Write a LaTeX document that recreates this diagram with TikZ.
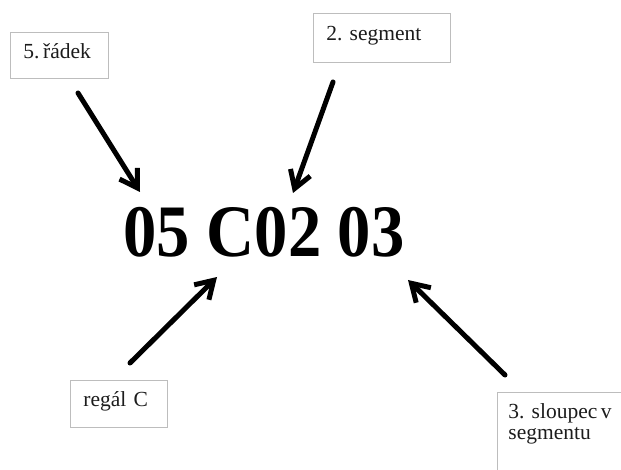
\documentclass[tikz,border=0pt]{standalone}
\usepackage{fontspec}
\setmainfont[WordSpace=0.8]{Liberation Serif}
\newfontfamily\codefont{Liberation Serif}
\usetikzlibrary{arrows.meta}
\definecolor{framegray}{HTML}{BDBDBD}
\definecolor{inkgray}{HTML}{1C1C1C}
\frenchspacing
\begin{document}
\begin{tikzpicture}[x=1pt,y=-1pt,
  tag/.style={draw=framegray, line width=0.9pt, fill=white, anchor=north west,
    align=left, inner xsep=13pt, inner ysep=0pt, text height=13pt, text depth=7pt,
    font=\fontsize{21.5}{22}\selectfont, text=inkgray},
  pointer/.style={line width=5pt, line cap=round,
    -{Straight Barb[length=17pt,width=21pt]}}]
\useasboundingbox (0,0) rectangle (621,470);
\clip (0,0) rectangle (621,470);
\fill[white] (0,0) rectangle (621,470);

% the location code
\node[font=\codefont\fontsize{74}{80}\selectfont\bfseries, xscale=0.9, inner sep=0pt]
  (code) at (264,232) {05 C02 03};

% explanation boxes
\node[tag, text width=72pt, minimum height=46pt] (row) at (10,32) {5.\,řádek};
\node[tag, text width=111pt, minimum height=49pt] (seg) at (313,13) {2. segment};
\node[tag, text width=71pt, minimum height=47pt] (rack) at (70,380) {regál C};
\node[tag, inner xsep=11pt, inner ysep=11.7pt, text width=178pt,
  minimum width=200pt, text height=14.3pt, text depth=60pt] (col) at (497,392)
  {3. sloupec\,v\\[-1pt]segmentu};

% arrow end points
\coordinate (rowT) at (78,93);   \coordinate (rowH) at (140,192);
\coordinate (segT) at (333,82);  \coordinate (segH) at (293,193);
\coordinate (rackT) at (130,363); \coordinate (rackH) at (217,277);
\coordinate (colT) at (505,375); \coordinate (colH) at (408,280);

\draw[pointer] (rowT) -- (rowH);
\draw[pointer] (segT) -- (segH);
\draw[pointer] (rackT) -- (rackH);
\draw[pointer] (colT) -- (colH);
\end{tikzpicture}
\end{document}
